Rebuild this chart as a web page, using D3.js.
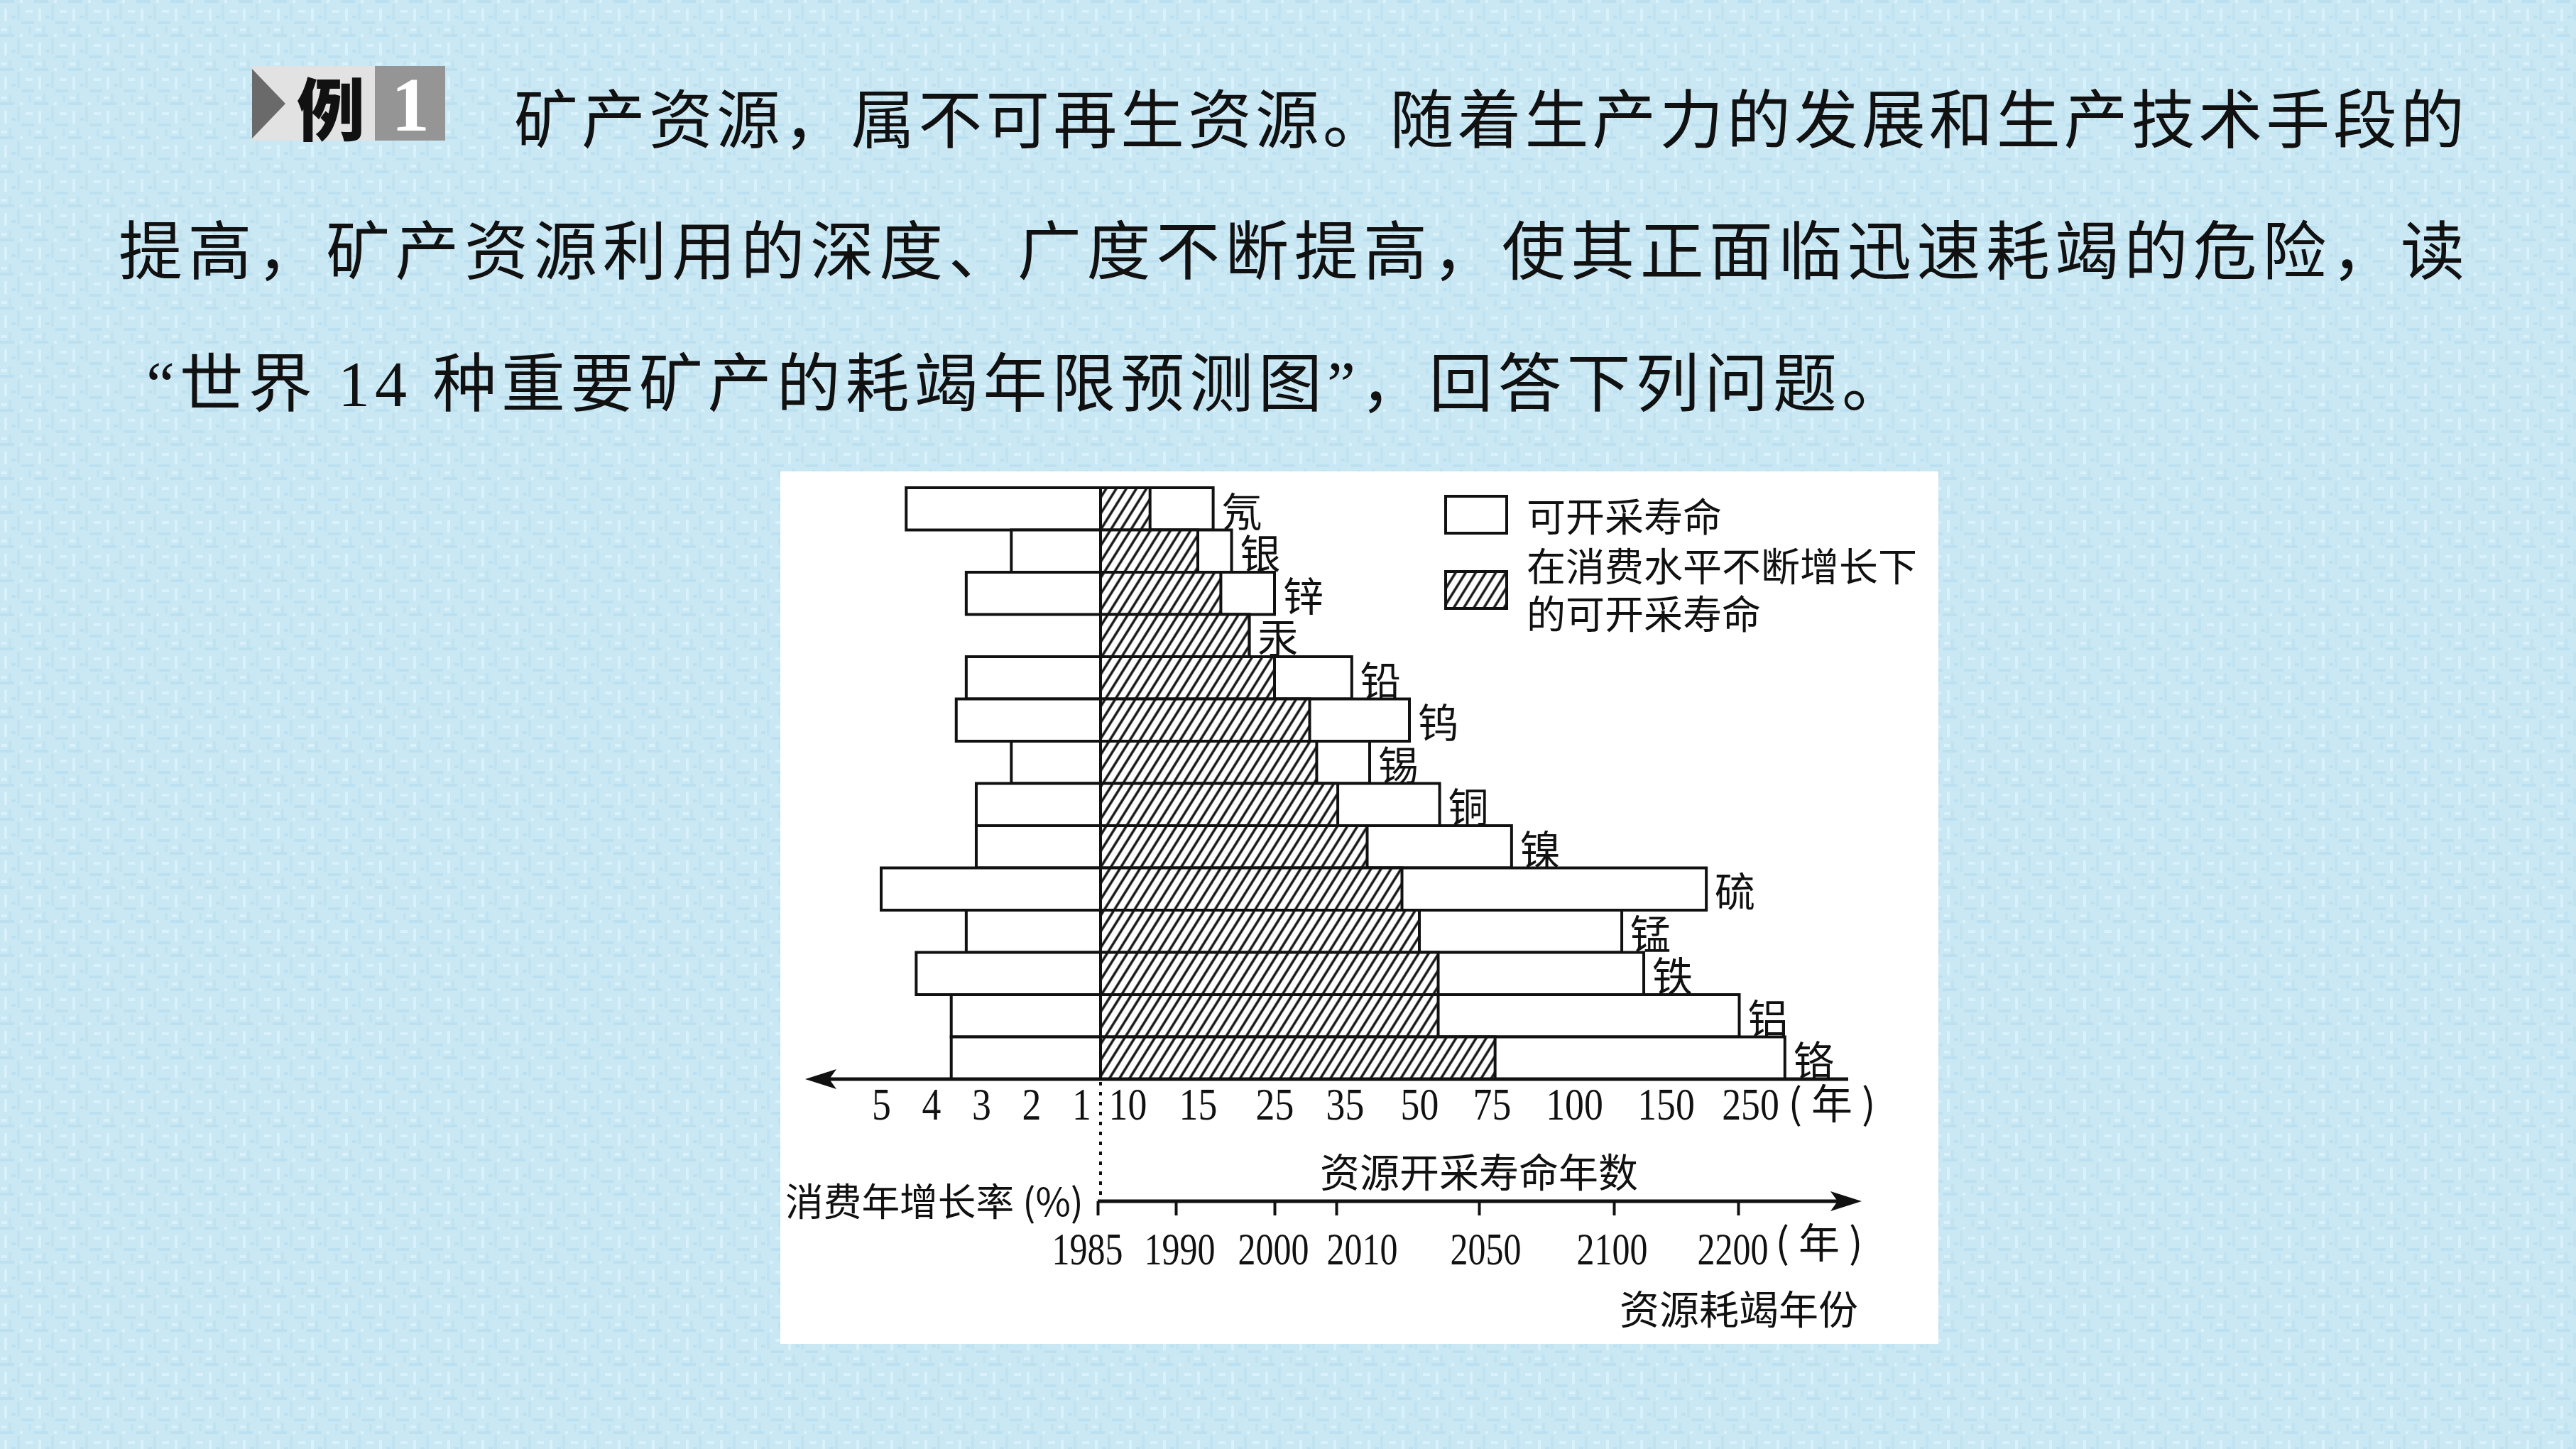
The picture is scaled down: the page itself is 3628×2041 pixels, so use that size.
<!DOCTYPE html>
<html><head><meta charset="utf-8">
<script src="https://cdn.jsdelivr.net/npm/d3@7/dist/d3.min.js"></script>
<style>html,body{margin:0;padding:0;overflow:hidden;background:#cbe8f4}</style>
</head><body><div id="c"></div>
<script>
// ---------------- data ----------------
const minerals    = ['氖','银','锌','汞','铅','钨','锡','铜','镍','硫','锰','铁','铝','铬'];
const growthRate  = [4.5, 2.4, 3.3, null, 3.3, 3.5, 2.4, 3.1, 3.1, 5.0, 3.3, 4.3, 3.6, 3.6];   // 消费年增长率(%)
const lifeGrowing = [11.6, 15, 18, 21.7, 25, 30, 31, 34, 39.5, 46.5, 50, 56.5, 56.5, 76];       // 在消费水平不断增长下的可开采寿命(年)
const lifeStatic  = [17, 19.4, 25, 21.7, 36.4, 48, 40, 57, 81, 198, 126, 138, 237, 291];      // 可开采寿命(年)
const lifeTicks   = [10, 15, 25, 35, 50, 75, 100, 150, 250];
const rateTicks   = [5, 4, 3, 2, 1];
const yearTicks   = [1985, 1990, 2000, 2010, 2050, 2100, 2200];
const legendItems = [['可开采寿命'], ['在消费水平不断增长下', '的可开采寿命']];
const bodyLines = [
  '矿产资源，属不可再生资源。随着生产力的发展和生产技术手段的',
  '提高，矿产资源利用的深度、广度不断提高，使其正面临迅速耗竭的危险，读',
  '“世界 14 种重要矿产的耗竭年限预测图”，回答下列问题。'
];

// ---------------- page ----------------
const W = 3628, H = 2041;
const svg = d3.select('#c').append('svg').attr('width', W).attr('height', H);
const defs = svg.append('defs');

// textured light-blue background
const bg = defs.append('pattern').attr('id', 'bgtex').attr('patternUnits', 'userSpaceOnUse')
  .attr('width', 48).attr('height', 48);
bg.append('rect').attr('width', 48).attr('height', 48).attr('fill', '#c9e8f4');
[[0,0,20,4,'#bde0f0'],[24,6,4,22,'#c0e2f1'],[6,12,4,18,'#d8f1fa'],[30,30,18,4,'#bde0f0'],
 [12,36,4,12,'#c0e2f1'],[36,14,10,4,'#d8f1fa'],[2,40,8,4,'#d8f1fa'],[40,38,4,10,'#c0e2f1'],
 [16,22,6,4,'#bde0f0'],[28,0,4,4,'#d8f1fa']].forEach(r =>
  bg.append('rect').attr('x', r[0]).attr('y', r[1]).attr('width', r[2]).attr('height', r[3]).attr('fill', r[4]));
svg.append('rect').attr('width', W).attr('height', H).attr('fill', 'url(#bgtex)');

// hatch pattern
const hatch = defs.append('pattern').attr('id', 'hatch').attr('patternUnits', 'userSpaceOnUse')
  .attr('width', 12).attr('height', 12).attr('patternTransform', 'rotate(32)');
hatch.append('rect').attr('width', 12).attr('height', 12).attr('fill', '#fff');
hatch.append('line').attr('x1', 6).attr('y1', 0).attr('x2', 6).attr('y2', 12)
  .attr('stroke', '#111').attr('stroke-width', 3.4);

// ---------------- badge 例1 ----------------
const badge = svg.append('g');
badge.append('rect').attr('x', 355).attr('y', 93).attr('width', 173).attr('height', 105).attr('fill', '#e2e2e2');
badge.append('rect').attr('x', 528).attr('y', 93).attr('width', 99).attr('height', 105).attr('fill', '#959595');
badge.append('path').attr('d', 'M355,97 L402,146 L355,195 Z').attr('fill', '#6a6a6a');
badge.append('text').attr('x', 466).attr('y', 148).attr('text-anchor', 'middle').attr('dominant-baseline', 'central')
  .attr('font-family', '"Noto Sans CJK SC"').attr('font-weight', 900).attr('font-size', 96).attr('fill', '#111').text('例');
badge.append('text').attr('x', 578).attr('y', 184).attr('text-anchor', 'middle')
  .attr('font-family', '"Liberation Serif"').attr('font-weight', 700).attr('font-size', 108).attr('fill', '#fff').text('1');

// ---------------- body text ----------------
const bodyFont = '"Liberation Serif", "Noto Sans CJK SC"';
const bodyPos = [[724, 170, 2747], [167, 355, 3304], [206, 541, 2478]];
bodyLines.forEach((t, i) => {
  svg.append('text').attr('x', bodyPos[i][0]).attr('y', bodyPos[i][1])
    .attr('dominant-baseline', 'central')
    .attr('font-family', bodyFont).attr('font-size', 90).attr('font-weight', 400).attr('fill', '#111')
    .attr('textLength', bodyPos[i][2]).attr('lengthAdjust', 'spacing')
    .text(t);
});

// ---------------- chart panel ----------------
svg.append('rect').attr('x', 1099).attr('y', 664).attr('width', 1631).attr('height', 1229).attr('fill', '#fff');

const cx = 1550;           // centre line (0 on both horizontal scales)
const axisY = 1520;
const y = d3.scaleBand().domain(minerals).range([687, axisY]).padding(0);
const xR = d3.scaleLinear().domain([0, 10, 15, 25, 35, 50, 75, 100, 150, 250])
  .range([cx, 1588, 1687, 1795, 1894, 1999, 2101, 2217, 2346, 2465]);
const xL = d3.scaleLinear().domain([0, 1, 5]).range([cx, 1523, 1241]);
const xY = d3.scaleLinear().domain(yearTicks).range([1546, 1656, 1795, 1882, 2083, 2273, 2448]);

const rows = minerals.map((m, i) => ({ m, g: growthRate[i], a: lifeGrowing[i], b: lifeStatic[i] }));
const chart = svg.append('g').attr('stroke', '#111').attr('stroke-width', 4);

// left bars: consumption growth rate
chart.selectAll('.lb').data(rows.filter(d => d.g != null)).join('rect')
  .attr('x', d => xL(d.g)).attr('y', d => y(d.m))
  .attr('width', d => cx - xL(d.g)).attr('height', y.bandwidth()).attr('fill', '#fff');
// right white bars: static lifetime
chart.selectAll('.rb').data(rows).join('rect')
  .attr('x', cx).attr('y', d => y(d.m))
  .attr('width', d => xR(d.b) - cx).attr('height', y.bandwidth()).attr('fill', '#fff');
// hatched bars: lifetime with growing consumption
chart.selectAll('.hb').data(rows).join('rect')
  .attr('x', cx).attr('y', d => y(d.m))
  .attr('width', d => xR(d.a) - cx).attr('height', y.bandwidth()).attr('fill', 'url(#hatch)');

// mineral labels
svg.selectAll('.ml').data(rows).join('text')
  .attr('x', d => xR(d.b) + 12).attr('y', d => y(d.m) + y.bandwidth() / 2)
  .attr('dominant-baseline', 'central')
  .attr('font-family', '"Noto Sans CJK SC"').attr('font-size', 57).attr('fill', '#111')
  .text(d => d.m);

// upper axis line with left arrow
svg.append('line').attr('x1', 1160).attr('x2', 2603).attr('y1', axisY).attr('y2', axisY)
  .attr('stroke', '#111').attr('stroke-width', 5);
svg.append('path').attr('d', `M1134,${axisY} L1178,${axisY - 14} L1168,${axisY} L1178,${axisY + 14} Z`).attr('fill', '#111');

// tick labels (no tick marks)
const numFont = '"Liberation Serif"';
function styleAxis(g) {
  g.select('.domain').remove();
  g.selectAll('.tick line').remove();
  g.selectAll('.tick text').attr('font-family', numFont).attr('font-size', 64).attr('fill', '#111')
    .attr('transform', 'scale(0.84,1)');
}
svg.append('g').attr('transform', `translate(0,${axisY + 12})`)
  .call(d3.axisBottom(xR).tickValues(lifeTicks).tickSize(0).tickPadding(0).tickFormat(d3.format('d')))
  .call(styleAxis);
svg.append('g').attr('transform', `translate(0,${axisY + 12})`)
  .call(d3.axisBottom(xL).tickValues(rateTicks).tickSize(0).tickPadding(0).tickFormat(d3.format('d')))
  .call(styleAxis);
svg.append('text').attr('x', 2580).attr('y', 1576).attr('text-anchor', 'middle')
  .attr('font-family', '"Noto Sans CJK SC"').attr('font-size', 58).attr('fill', '#111').text('( 年 )');

// dotted divider
svg.append('line').attr('x1', cx).attr('x2', cx).attr('y1', axisY + 4).attr('y2', 1694)
  .attr('stroke', '#111').attr('stroke-width', 4).attr('stroke-dasharray', '5 9');

// axis titles
svg.append('text').attr('x', 2083).attr('y', 1647).attr('text-anchor', 'middle').attr('dominant-baseline', 'central')
  .attr('font-family', '"Noto Sans CJK SC"').attr('font-size', 56).attr('fill', '#111').text('资源开采寿命年数');
svg.append('text').attr('x', 1106).attr('y', 1689).attr('dominant-baseline', 'central')
  .attr('font-family', '"Noto Sans CJK SC"').attr('font-size', 54).attr('fill', '#111')
  .attr('textLength', 420).attr('lengthAdjust', 'spacingAndGlyphs').text('消费年增长率 (%)');

// lower year axis
const yearY = 1692;
const yearLabelNudge = { 1985: -15, 1990: 5, 2000: -2, 2010: 36, 2050: 9, 2100: -3, 2200: -8 };
svg.append('line').attr('x1', 1546).attr('x2', 2595).attr('y1', yearY).attr('y2', yearY)
  .attr('stroke', '#111').attr('stroke-width', 5);
svg.append('path').attr('d', `M2622,${yearY} L2578,${yearY - 14} L2588,${yearY} L2578,${yearY + 14} Z`).attr('fill', '#111');
const yAx = svg.append('g').attr('transform', `translate(0,${yearY})`)
  .call(d3.axisBottom(xY).tickValues(yearTicks).tickSize(20).tickPadding(24).tickFormat(d3.format('d')));
yAx.select('.domain').remove();
yAx.selectAll('.tick line').attr('stroke', '#111').attr('stroke-width', 4);
yAx.selectAll('.tick text').attr('font-family', numFont).attr('font-size', 64).attr('fill', '#111')
  .attr('transform', d => `translate(${yearLabelNudge[d] || 0},0) scale(0.78,1)`);
svg.append('text').attr('x', 2562).attr('y', 1772).attr('text-anchor', 'middle')
  .attr('font-family', '"Noto Sans CJK SC"').attr('font-size', 58).attr('fill', '#111').text('( 年 )');
svg.append('text').attr('x', 2449).attr('y', 1840).attr('text-anchor', 'middle').attr('dominant-baseline', 'central')
  .attr('font-family', '"Noto Sans CJK SC"').attr('font-size', 56).attr('fill', '#111').text('资源耗竭年份');

// legend
const lg = svg.append('g');
const legY = [699, 805];
lg.append('rect').attr('x', 2036).attr('y', legY[0]).attr('width', 86).attr('height', 52)
  .attr('fill', '#fff').attr('stroke', '#111').attr('stroke-width', 4);
lg.append('rect').attr('x', 2036).attr('y', legY[1]).attr('width', 86).attr('height', 52)
  .attr('fill', 'url(#hatch)').attr('stroke', '#111').attr('stroke-width', 4);
const legTextY = [[724], [794, 861]];
legendItems.forEach((lines, i) => lines.forEach((t, j) => {
  lg.append('text').attr('x', 2150).attr('y', legTextY[i][j]).attr('dominant-baseline', 'central')
    .attr('font-family', '"Noto Sans CJK SC"').attr('font-size', 55).attr('fill', '#111').text(t);
}));
</script>
</body></html>
